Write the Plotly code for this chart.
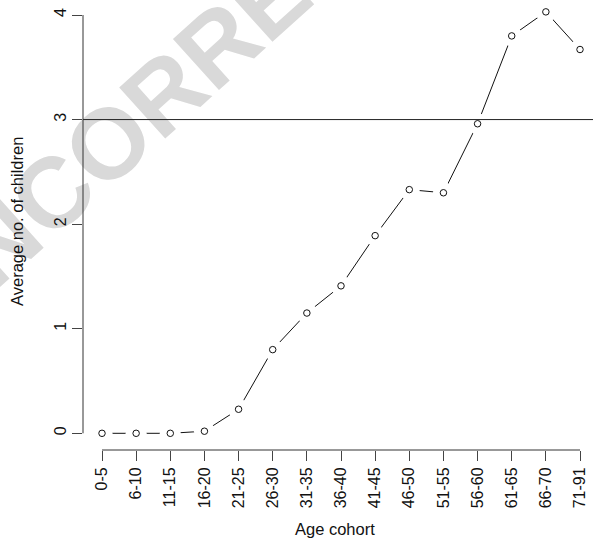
import plotly.graph_objects as go

# Age cohorts and average number of children per cohort
cohorts = ["0-5", "6-10", "11-15", "16-20", "21-25", "26-30", "31-35", "36-40",
           "41-45", "46-50", "51-55", "56-60", "61-65", "66-70", "71-91"]
avg_children = [0.0, 0.0, 0.0, 0.02, 0.23, 0.80, 1.15, 1.41,
                1.89, 2.33, 2.30, 2.96, 3.80, 4.03, 3.67]
y_ticks = [0, 1, 2, 3, 4]
reference_level = 3

x_pos = list(range(1, len(cohorts) + 1))

FONT = "Liberation Sans, Arial, sans-serif"
INK = "#111111"

fig = go.Figure()

# connecting line
fig.add_trace(go.Scatter(
    x=x_pos, y=avg_children, mode="lines",
    line=dict(color=INK, width=1), hoverinfo="skip", showlegend=False))
# white halo around each point (gap between line and symbol)
fig.add_trace(go.Scatter(
    x=x_pos, y=avg_children, mode="markers",
    marker=dict(symbol="circle", size=21, color="white", line=dict(width=0)),
    hoverinfo="skip", showlegend=False))
# open circle symbols
fig.add_trace(go.Scatter(
    x=x_pos, y=avg_children, mode="markers",
    marker=dict(symbol="circle", size=6.5, color="white",
                line=dict(color=INK, width=1)),
    showlegend=False))

# plot geometry (pixels): left edge 83, right edge 593, top 0, bottom 450
L, R, T, B = 83, 593, 0, 450
W, H = R - L, B - T


def px_to_paper(px, py):
    return (px - L) / W, (B - py) / H


# watermark drawn beneath everything
wcx, wcy = 201, 47
wx0, wy0 = px_to_paper(wcx - 320, wcy + 290)
wx1, wy1 = px_to_paper(wcx + 320, wcy - 290)
shapes = [
    dict(type="line", xref="paper", yref="paper", x0=wx0, y0=wy0, x1=wx1, y1=wy1,
         layer="below", line=dict(color="rgba(0,0,0,0)", width=0),
         label=dict(text="<b>UNCORRECTED</b>", textangle=-42, textposition="middle",
                    xanchor="center", yanchor="middle",
                    font=dict(family=FONT, size=100, color="#d9d9d9"))),
    # reference line
    dict(type="line", xref="paper", yref="y", x0=0, x1=1,
         y0=reference_level, y1=reference_level, layer="above",
         line=dict(color="#222222", width=1)),
    # y axis line spanning the tick range
    dict(type="line", xref="paper", yref="y", x0=0, x1=0,
         y0=y_ticks[0], y1=y_ticks[-1], line=dict(color="#333333", width=1)),
    # x axis line spanning the tick range
    dict(type="line", xref="x", yref="paper", x0=x_pos[0], x1=x_pos[-1],
         y0=0, y1=0, line=dict(color="#333333", width=1)),
]

unit_x = (580 - 102) / (len(cohorts) - 1)
x_range = [1 - (102 - L) / unit_x, len(cohorts) + (R - 580) / unit_x]
unit_y = (433.3 - 15) / 4
y_range = [-(B - 433.3) / unit_y, 4 + (15 - T) / unit_y]

ax_title_x, ax_title_y = px_to_paper(335, 529)
ay_title_x, ay_title_y = px_to_paper(17, 222)

fig.update_layout(
    width=593, height=539,
    margin=dict(l=L, r=593 - R, t=T, b=539 - B, pad=0),
    paper_bgcolor="white", plot_bgcolor="white",
    font=dict(family=FONT, color=INK),
    shapes=shapes,
    xaxis=dict(
        range=x_range, tickmode="array", tickvals=x_pos, ticktext=cohorts,
        tickangle=-90, ticks="outside", ticklen=10, tickwidth=1, tickcolor="#444444",
        tickfont=dict(size=16, family=FONT, color=INK),
        showgrid=False, zeroline=False, showline=False, fixedrange=True),
    yaxis=dict(
        range=y_range, tickmode="array", tickvals=y_ticks,
        ticktext=[str(v) for v in y_ticks],
        tickangle=-90, ticks="outside", ticklen=10, tickwidth=1, tickcolor="#444444",
        tickfont=dict(size=16, family=FONT, color=INK),
        showgrid=False, zeroline=False, showline=False, fixedrange=True),
    annotations=[
        dict(text="Age cohort", xref="paper", yref="paper",
             x=ax_title_x, y=ax_title_y, xanchor="center", yanchor="middle",
             showarrow=False, font=dict(size=16.5, family=FONT, color=INK)),
        dict(text="Average no. of children", xref="paper", yref="paper",
             x=ay_title_x, y=ay_title_y, xanchor="center", yanchor="middle",
             textangle=-90, showarrow=False,
             font=dict(size=16.5, family=FONT, color=INK)),
    ],
)

fig.write_html("out.html")
